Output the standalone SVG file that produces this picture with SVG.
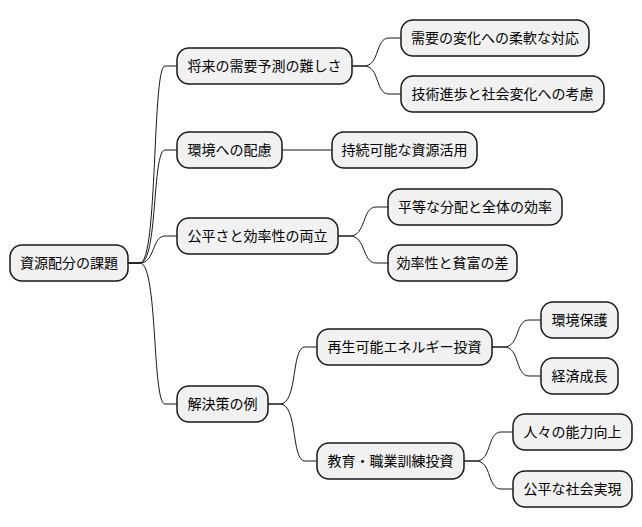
<svg xmlns="http://www.w3.org/2000/svg" width="642" height="527" viewBox="0 0 642 527">
<style>
.n rect{fill:#F1F1F1;stroke:#181818;stroke-width:1.5}
.n text{font-family:"Noto Sans CJK JP","Noto Sans",sans-serif;font-size:14px;fill:#000;text-anchor:middle}
.c path{fill:none;stroke:#181818;stroke-width:1}
</style>
<rect width="642" height="527" fill="#fff"/>
<g class="c">
<path d="M128,263 H140 C158,263 152,66 165,66 H177"/>
<path d="M128,263 H140 C158,263 152,150 165,150 H177"/>
<path d="M128,263 H140 C155,263 152,236 165,236 H177"/>
<path d="M128,263 H140 C158,263 152,404 165,404 H177"/>
<path d="M352,66 H364 C380,66 375,38 389,38 H401"/>
<path d="M352,66 H364 C380,66 375,94 389,94 H401"/>
<path d="M282,150 H332"/>
<path d="M338,236 H350 C366,236 362,207 376,207 H388"/>
<path d="M338,236 H350 C366,236 362,263 376,263 H388"/>
<path d="M268,404 H280 C298,404 291,347 305,347 H317"/>
<path d="M268,404 H280 C298,404 291,461 305,461 H317"/>
<path d="M492,347 H504 C520,347 515,320 529,320 H541"/>
<path d="M492,347 H504 C520,347 515,376 529,376 H541"/>
<path d="M464,461 H476 C492,461 487,432 501,432 H513"/>
<path d="M464,461 H476 C492,461 487,489 501,489 H513"/>
</g>
<g id="root" class="n"><rect x="10" y="245" width="118" height="36" rx="12"/><text x="69" y="268">資源配分の課題</text></g>
<g id="n1" class="n"><rect x="177" y="48" width="175" height="36" rx="12"/><text x="264.5" y="71">将来の需要予測の難しさ</text></g>
<g id="n2" class="n"><rect x="177" y="132" width="105" height="36" rx="12"/><text x="229.5" y="155">環境への配慮</text></g>
<g id="n3" class="n"><rect x="177" y="218" width="161" height="36" rx="12"/><text x="257.5" y="241">公平さと効率性の両立</text></g>
<g id="n4" class="n"><rect x="177" y="386" width="91" height="36" rx="12"/><text x="222.5" y="409">解決策の例</text></g>
<g id="n1a" class="n"><rect x="401" y="20" width="188" height="36" rx="12"/><text x="495" y="43">需要の変化への柔軟な対応</text></g>
<g id="n1b" class="n"><rect x="401" y="76" width="203" height="36" rx="12"/><text x="502.5" y="99">技術進歩と社会変化への考慮</text></g>
<g id="n2a" class="n"><rect x="332" y="132" width="145" height="36" rx="12"/><text x="404.5" y="155">持続可能な資源活用</text></g>
<g id="n3a" class="n"><rect x="388" y="189" width="174" height="36" rx="12"/><text x="475" y="212">平等な分配と全体の効率</text></g>
<g id="n3b" class="n"><rect x="388" y="245" width="129" height="36" rx="12"/><text x="452.5" y="268">効率性と貧富の差</text></g>
<g id="n4a" class="n"><rect x="317" y="329" width="175" height="36" rx="12"/><text x="404.5" y="352">再生可能エネルギー投資</text></g>
<g id="n4b" class="n"><rect x="317" y="443" width="147" height="36" rx="12"/><text x="390.5" y="466">教育・職業訓練投資</text></g>
<g id="n4a1" class="n"><rect x="541" y="302" width="77" height="36" rx="12"/><text x="579.5" y="325">環境保護</text></g>
<g id="n4a2" class="n"><rect x="541" y="358" width="77" height="36" rx="12"/><text x="579.5" y="381">経済成長</text></g>
<g id="n4b1" class="n"><rect x="513" y="414" width="119" height="36" rx="12"/><text x="572.5" y="437">人々の能力向上</text></g>
<g id="n4b2" class="n"><rect x="513" y="471" width="119" height="36" rx="12"/><text x="572.5" y="494">公平な社会実現</text></g>
</svg>
